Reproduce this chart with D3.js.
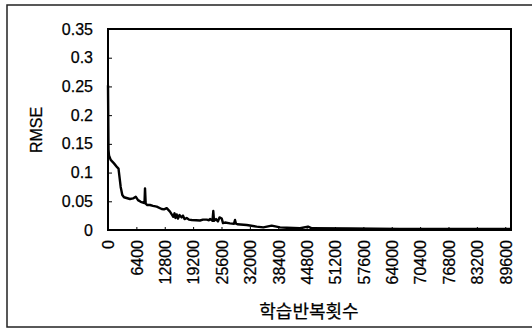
<!DOCTYPE html>
<html><head><meta charset="utf-8">
<script src="https://cdn.jsdelivr.net/npm/d3@7"></script>
<style>
html,body{margin:0;padding:0;background:#fff;}
svg text{font-family:"Liberation Sans",Arial,sans-serif;fill:#000;stroke:#000;stroke-width:0.25px;}
</style></head>
<body>
<svg id="c" width="532" height="328"></svg>
<script>
const iterations = [0,110,225,610,1350,2100,2370,2860,3230,3610,4960,5640,6250,6770,7380,8230,8350,8500,8860,9470,10150,10990,12110,12630,13240,13980,14730,15000,15230,15500,15790,16130,16620,16920,17260,17750,18270,18880,19850,20750,21430,22260,22780,23010,23570,23750,23910,24360,24810,25150,25650,25940,26390,27520,28420,28650,28870,29170,31290,33540,35030,36920,38800,40310,43310,45110,46010,54590,65860,77140,90900];
const rmse = [0.252,0.14,0.13,0.122,0.116,0.109,0.107,0.075,0.061,0.057,0.054,0.055,0.058,0.052,0.049,0.047,0.0725,0.046,0.0435,0.0435,0.042,0.0406,0.0366,0.036,0.038,0.032,0.023,0.029,0.021,0.027,0.02,0.026,0.022,0.025,0.019,0.021,0.018,0.0174,0.017,0.0165,0.018,0.018,0.017,0.019,0.016,0.033,0.016,0.019,0.015,0.022,0.02,0.012,0.013,0.0116,0.011,0.0174,0.011,0.01,0.0087,0.0058,0.0046,0.0075,0.0046,0.004,0.003,0.006,0.003,0.0025,0.002,0.002,0.0018];
const xTicks = [0,6400,12800,19200,25600,32000,38400,44800,51200,57600,64000,70400,76800,83200,89600];
const yTicks = [0,0.05,0.1,0.15,0.2,0.25,0.3,0.35];
const xTitle = "학습반복횟수";
const yTitle = "RMSE";

const svg = d3.select("#c");
const L=108, R=511, T=29, B=230;
const x = d3.scaleLinear().domain([0,90900]).range([L,R]);
const y = d3.scaleLinear().domain([0,0.35]).range([B,T]);

// outer frame
svg.append("rect").attr("x",7).attr("y",5).attr("width",530).attr("height",322)
  .attr("fill","none").attr("stroke","#222").attr("stroke-width",1.5);

// y axis
const ya = svg.append("g").attr("transform",`translate(${L},0)`)
  .call(d3.axisLeft(y).tickValues(yTicks).tickSize(-4).tickPadding(15).tickFormat(d=>String(+d.toFixed(2))));
ya.select(".domain").remove();
ya.selectAll("text").style("font-size","16px");
ya.selectAll("line").attr("stroke","#000");

// x axis
const xa = svg.append("g").attr("transform",`translate(0,${B})`)
  .call(d3.axisBottom(x).tickValues(xTicks).tickSize(-3).tickFormat(d=>String(d)));
xa.select(".domain").remove();
xa.selectAll("line").attr("stroke","#000");
xa.selectAll("text").style("font-size","16px")
  .attr("text-anchor","end").attr("transform","rotate(-90)")
  .attr("x",-10).attr("y",0).attr("dy","0.36em");

// plot frame
svg.append("rect").attr("x",L).attr("y",T).attr("width",R-L).attr("height",B-T)
  .attr("fill","none").attr("stroke","#000").attr("stroke-width",2);

// line
const pts = iterations.map((d,i)=>[d,rmse[i]]);
svg.append("path").datum(pts)
  .attr("fill","none").attr("stroke","#000").attr("stroke-width",2.4).attr("stroke-linejoin","round")
  .attr("d", d3.line().x(d=>x(d[0])).y(d=>y(d[1])));

// titles
svg.append("text").attr("transform","translate(42,130) rotate(-90)")
  .attr("text-anchor","middle").style("font-size","16px").text(yTitle);
svg.append("text").attr("x",309).attr("y",318).attr("text-anchor","middle")
  .style("font-family","'Noto Sans CJK KR',sans-serif").style("font-size","18px").text(xTitle);
</script>
</body></html>
